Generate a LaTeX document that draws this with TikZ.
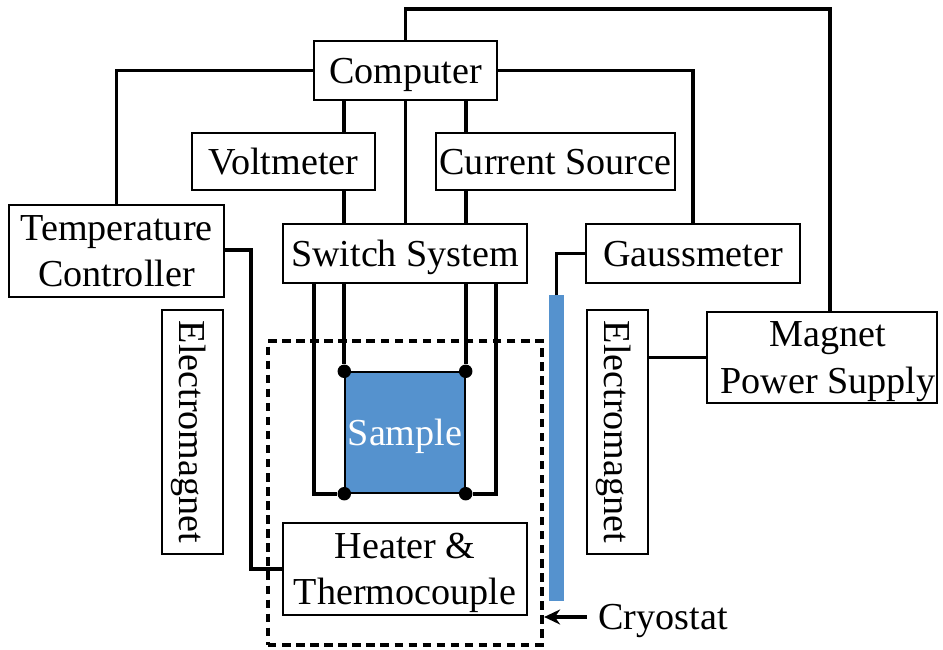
\documentclass[tikz,border=0pt]{standalone}
\usepackage{fontspec}
\setmainfont{Liberation Serif}
\usepackage{xcolor}
\usetikzlibrary{arrows.meta}
\definecolor{sampleblue}{HTML}{5592CE}
\tikzset{lettering/.style={font=\fontsize{10.85}{13.2}\selectfont, text depth=0pt}}
\tikzset{unit/.style={rectangle, draw=black, fill=white, align=center, inner sep=0pt, line width=0.6pt, lettering}}
\tikzset{wire/.style={line width=1.1pt, color=black}}
\tikzset{joint/.style={circle, fill=black, inner sep=0pt, minimum size=1.35mm}}
\begin{document}
\begin{tikzpicture}[x=0.1cm,y=-0.1cm]
	\useasboundingbox (0,0) rectangle (94.3,65);
	\node [unit, minimum width=18.3mm, minimum height=5.9mm] (computer) at (40.55,7.05) {Computer};
	\node [unit, minimum width=18.3mm, minimum height=5.7mm] (voltmeter) at (28.35,16.15) {Voltmeter};
	\node [unit, minimum width=23.9mm, minimum height=5.7mm] (source) at (55.55,16.15) {Current Source};
	\node [unit, minimum width=24.4mm, minimum height=5.9mm] (switch) at (40.5,25.35) {Switch System};
	\node [unit, minimum width=21.5mm, minimum height=9.2mm] (temp) at (11.65,25.1) {Temperature\\Controller};
	\node [unit, minimum width=21.4mm, minimum height=5.9mm] (gauss) at (69.3,25.35) {Gaussmeter};
	\node [unit, rotate=-90, minimum width=24.4mm, minimum height=6.1mm] (magleft) at (19.25,43.2) {Electromagnet};
	\node [unit, rotate=-90, minimum width=24.4mm, minimum height=6.1mm] (magright) at (61.75,43.2) {Electromagnet};
	\node [unit, minimum width=23mm, minimum height=9.1mm] (supply) at (82.2,35.75) {\hspace*{1.2mm}Magnet\\\hspace*{1.2mm}Power Supply};
	\node [unit, minimum width=24.4mm, minimum height=9.2mm] (heater) at (40.5,56.9) {Heater \&\\Thermocouple};
	\node [rectangle, draw=black, line width=1.2pt, dash pattern=on 2.4pt off 1.6pt, minimum width=27.4mm, minimum height=30.4mm] (cryo) at (40.5,49.3) {};
	\node [rectangle, draw=black, fill=sampleblue, line width=0.4pt, minimum width=12mm, minimum height=12.1mm, inner sep=0pt, text=white, lettering] (sample) at (40.5,43.25) {Sample};
	\node [rectangle, draw=sampleblue, fill=sampleblue, line width=0.3pt, minimum width=1.3mm, minimum height=30.4mm, inner sep=0pt] (bar) at (55.65,44.8) {};
	\node [lettering, inner sep=0pt] (cryolabel) at (66.3,61.7) {Cryostat};
	\node [joint] (jsw) at (sample.south west) {};
	\node [joint] (jse) at (sample.south east) {};
	\node [joint] (jnw) at (sample.north west) {};
	\node [joint] (jne) at (sample.north east) {};
	% computer to instruments
	\draw [wire] (computer.west) -| (temp.north);
	\draw [wire] (computer.east) -| (gauss.north);
	\draw [wire] (computer.south -| jnw) -- (voltmeter.north -| jnw);
	\draw [wire] (computer.south -| jne) -- (source.north -| jne);
	\draw [wire] (computer.south) -- (computer.south |- switch.north);
	\draw [wire] (voltmeter.south -| jnw) -- (switch.north -| jnw);
	\draw [wire] (source.south -| jne) -- (switch.north -| jne);
	\draw [wire] (computer.north) |- (83,0.9) -- (83,31.2);
	% sample leads
	\draw [wire] (switch.south -| jnw) -- (jnw);
	\draw [wire] (switch.south -| jne) -- (jne);
	\draw [wire] (31.4,28.3) |- (jsw);
	\draw [wire] (49.6,28.3) |- (jse);
	% other connections
	\draw [wire] (22.4,25) -- (25.1,25) |- (heater.west);
	\draw [wire] (bar.north) |- (gauss.west);
	\draw [wire] (magright.north |- supply.west) -- (supply.west);
	\draw [wire, shorten <=1.1mm, -{Stealth[length=1.6mm,width=1.5mm]}] (cryolabel.west) -- (cryo.east |- cryolabel.west);
\end{tikzpicture}
\end{document}
